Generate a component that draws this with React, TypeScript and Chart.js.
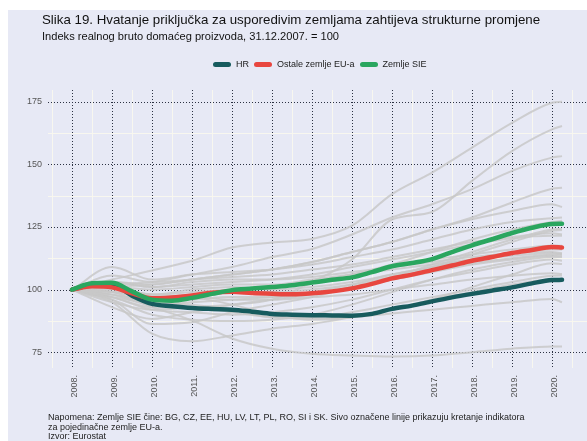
import React, { useEffect, useRef } from "react";
import { Chart, registerables } from "chart.js";

Chart.register(...registerables);

// ---------- DATA ----------
const halfYears = [
  2008, 2008.5, 2009, 2009.5, 2010, 2010.5, 2011, 2011.5, 2012, 2012.5, 2013, 2013.5,
  2014, 2014.5, 2015, 2015.5, 2016, 2016.5, 2017, 2017.5, 2018, 2018.5, 2019, 2019.5,
  2020, 2020.25,
];
const years = [2008, 2009, 2010, 2011, 2012, 2013, 2014, 2015, 2016, 2017, 2018, 2019, 2020, 2020.25];

const hrValues = [
  100, 101.8, 102, 97.6, 94.3, 93.4, 92.7, 92.3, 92.0, 91.2, 90.3, 90.0,
  89.8, 89.7, 89.6, 90.3, 92.3, 93.6, 95.3, 96.9, 98.3, 99.6, 100.9, 102.5,
  103.8, 103.9,
];
const euValues = [
  100, 101.3, 100.9, 98.5, 96.5, 96.9, 97.7, 98.7, 99.1, 98.6, 98.3, 98.1,
  98.5, 99.3, 100.5, 102.3, 104.5, 106.0, 107.8, 109.6, 111.5, 113.0, 114.6, 115.8,
  117.0, 116.8,
];
const sieValues = [
  100, 102.5, 102.7, 99.3, 96.0, 95.6, 96.7, 98.3, 99.8, 100.4, 101.0, 101.7,
  102.8, 103.9, 104.9, 107.0, 109.3, 110.6, 112.2, 115.0, 117.7, 120.1, 122.6, 124.7,
  126.2, 126.3,
];

// individual EU countries (grey lines), values at `years`
const grayLines = [
  [100, 104, 107.6, 111.5, 116.8, 118.8, 120.2, 125.5, 138.1, 146.7, 156.7, 166.6, 174.6, 175],
  [100, 95, 92, 93, 94, 96, 103, 112, 128, 131, 143.4, 155.3, 164, 165.3],
  [100, 102, 103, 106, 109, 113, 116.2, 122, 128.8, 134.1, 140.1, 147.4, 152.7, 153.3],
  [100, 101, 102, 104, 106, 108, 111, 115, 119, 124, 128.8, 134.8, 140.3, 140.7],
  [100, 103, 102, 104, 106, 108, 111, 115, 119, 124, 128.1, 131.4, 134.1, 133],
  [100, 109, 104, 106, 107, 108, 110, 113, 116, 120, 124, 127, 128.5, 128.8],
  [100, 98, 96, 98, 100, 101, 103, 106, 110, 115, 120, 124, 127, 127.5],
  [100, 96, 86.3, 87, 91, 94, 97, 101, 105, 110, 115, 120, 124, 124.2],
  [100, 93, 88.3, 91, 94, 96, 98, 101, 104, 109, 114, 119, 123.5, 123.8],
  [100, 103, 101, 102, 103, 104, 106, 109, 112, 115, 118, 120.5, 121.5, 121.5],
  [100, 99, 98, 99, 100, 101, 103, 106, 109, 112, 114, 116, 117.5, 117.5],
  [100, 101, 100, 101, 102, 102, 104, 106, 108, 110, 112, 113.5, 114.5, 114.2],
  [100, 99, 97, 98, 99, 99, 100, 102, 105, 108, 110.5, 112.5, 114, 114.2],
  [100, 97, 95, 96, 97, 97, 98, 101, 104, 107, 110, 112, 113.5, 113.5],
  [100, 95, 82.4, 79.4, 81.7, 84.4, 86.3, 89, 92, 96, 101, 106, 110.5, 110.2],
  [100, 99, 97, 97, 96, 96, 97, 98, 100, 102, 104, 105.5, 106.5, 106.2],
  [100, 98, 95, 94, 92, 89, 89, 91, 94, 97, 100, 103, 105.5, 105.6],
  [100, 97, 93, 93, 91, 89, 88.5, 89, 90.5, 92, 93.5, 95, 96.3, 94.9],
  [100, 99, 93, 87.7, 80.5, 76.4, 74.4, 73.7, 73.3, 73.7, 75, 76.4, 77.3, 77.3],
  [100, 100, 98, 97, 94, 90, 88, 89, 92, 96, 99, 102, 104, 103.5],
  [100, 101, 98, 100, 101, 100, 101, 103, 106, 109, 112, 115, 117.5, 117],
  [100, 103, 101, 103, 104, 104, 105, 107, 109, 111, 113, 114.5, 115, 114.5],
  [100, 105.6, 103, 104, 105, 106, 108, 110, 113, 116, 119, 121, 122.5, 122],
  [100, 96, 90, 88, 87.5, 88, 90, 94, 99, 104, 108, 111, 113, 113],
  [100, 97, 92, 91, 90, 91, 93, 96, 100, 104, 107, 110, 112, 111.5],
  [100, 98, 94, 95, 96, 97, 99, 102, 106, 109, 112, 114.5, 116, 116],
];

const xTickYears = [2008, 2009, 2010, 2011, 2012, 2013, 2014, 2015, 2016, 2017, 2018, 2019, 2020];
const yTickValues = [75, 100, 125, 150, 175];

const seriesNames = ["HR", "Ostale zemlje EU-a", "Zemlje SIE"];
const seriesColors = ["#175B5E", "#E8463F", "#2AA65F"];

const titleText = "Slika 19. Hvatanje priključka za usporedivim zemljama zahtijeva strukturne promjene";
const subtitleText = "Indeks realnog bruto domaćeg proizvoda, 31.12.2007. = 100";
const noteText1 =
  "Napomena: Zemlje SIE čine: BG, CZ, EE, HU, LV, LT, PL, RO, SI i SK. Sivo označene linije prikazuju kretanje indikatora";
const noteText2 = "za pojedinačne zemlje EU-a.";
const sourceText = "Izvor: Eurostat";

const FONT = "'Liberation Sans', Arial, Helvetica, sans-serif";
const BG = "#E7E9F5";

const gridPlugin = {
  id: "customGrid",
  beforeDatasetsDraw(chart: any) {
    const { ctx, chartArea, scales } = chart;
    const { left, right, top, bottom } = chartArea;
    const x = scales.x;
    const y = scales.y;
    ctx.save();
    // faint minor grid
    ctx.strokeStyle = "rgba(250,248,238,0.9)";
    ctx.lineWidth = 1;
    ctx.setLineDash([]);
    for (let v = 62.5; v <= 190; v += 25) {
      const py = Math.round(y.getPixelForValue(v)) + 0.5;
      if (py < top || py > bottom) continue;
      ctx.beginPath();
      ctx.moveTo(left, py);
      ctx.lineTo(right, py);
      ctx.stroke();
    }
    for (let v = 2007.5; v <= 2021; v += 1) {
      const px = Math.round(x.getPixelForValue(v)) + 0.5;
      if (px < left || px > right) continue;
      ctx.beginPath();
      ctx.moveTo(px, top);
      ctx.lineTo(px, bottom);
      ctx.stroke();
    }
    // dotted major grid
    ctx.strokeStyle = "#2C3243";
    ctx.lineWidth = 1;
    ctx.setLineDash([1, 2]);
    for (const v of yTickValues) {
      const py = Math.round(y.getPixelForValue(v)) + 0.5;
      ctx.beginPath();
      ctx.moveTo(left, py);
      ctx.lineTo(right, py);
      ctx.stroke();
    }
    for (const v of xTickYears) {
      const px = Math.round(x.getPixelForValue(v)) + 0.5;
      ctx.beginPath();
      ctx.moveTo(px, top);
      ctx.lineTo(px, bottom);
      ctx.stroke();
    }
    ctx.restore();
  },
};

function toPoints(xs: number[], ys: number[]) {
  return xs.map((xv, i) => ({ x: xv, y: ys[i] }));
}

export default function App() {
  const canvasRef = useRef<HTMLCanvasElement | null>(null);

  useEffect(() => {
    const canvas = canvasRef.current;
    if (!canvas) return;

    const grayDatasets = grayLines.map((vals, i) => ({
      label: "g" + i,
      data: toPoints(years, vals),
      borderColor: "rgba(200,200,200,0.85)",
      borderWidth: 2,
      pointRadius: 0,
      cubicInterpolationMode: "monotone" as const,
      order: 10,
    }));

    const mainValues = [hrValues, euValues, sieValues];
    const mainOrders = [3, 2, 1];
    const mainDatasets = mainValues.map((vals, i) => ({
      label: seriesNames[i],
      data: toPoints(halfYears, vals),
      borderColor: seriesColors[i],
      borderWidth: 4.5,
      pointRadius: 0,
      borderCapStyle: "round" as const,
      borderJoinStyle: "round" as const,
      cubicInterpolationMode: "monotone" as const,
      order: mainOrders[i],
    }));

    const chart = new Chart(canvas, {
      type: "line",
      data: { datasets: [...grayDatasets, ...mainDatasets] as any },
      options: {
        animation: false,
        responsive: false,
        devicePixelRatio: 1,
        layout: { padding: { top: 90, left: 0, right: 0, bottom: 0 } },
        plugins: {
          legend: { display: false },
          tooltip: { enabled: false },
          title: { display: false },
        },
        scales: {
          x: {
            type: "linear",
            min: 2007.4,
            max: 2020.875,
            grid: { display: false, drawTicks: false },
            border: { display: false },
            afterBuildTicks: (axis: any) => {
              axis.ticks = xTickYears.map((v) => ({ value: v }));
            },
            afterFit: (scale: any) => {
              scale.height = 73;
            },
            ticks: {
              autoSkip: false,
              maxRotation: 90,
              minRotation: 90,
              padding: 7,
              labelOffset: 3,
              color: "#555555",
              font: { family: FONT, size: 9 },
              callback: (v: any) => `${v}.`,
            },
          },
          y: {
            type: "linear",
            min: 68.7,
            max: 179.7,
            grid: { display: false, drawTicks: false },
            border: { display: false },
            afterBuildTicks: (axis: any) => {
              axis.ticks = yTickValues.map((v) => ({ value: v }));
            },
            afterFit: (scale: any) => {
              scale.width = 48;
            },
            ticks: {
              padding: 6,
              color: "#555555",
              font: { family: FONT, size: 9 },
              callback: (v: any) => `${v}`,
            },
          },
        },
      },
      plugins: [gridPlugin],
    });

    return () => chart.destroy();
  }, []);

  return (
    <div
      style={{
        position: "fixed",
        left: 0,
        top: 0,
        width: 587,
        height: 441,
        background: "#ffffff",
        overflow: "hidden",
        fontFamily: FONT,
      }}
    >
      <div style={{ position: "absolute", left: 8, top: 10, right: 0, bottom: 0, background: BG }} />
      <canvas
        ref={canvasRef}
        width={587}
        height={441}
        style={{ position: "absolute", left: 0, top: 0, width: 587, height: 441 }}
      />
      <div
        style={{
          position: "absolute",
          left: 42,
          top: 12,
          fontSize: 13.3,
          color: "#111111",
          whiteSpace: "nowrap",
          lineHeight: "16px",
        }}
      >
        {titleText}
      </div>
      <div
        style={{
          position: "absolute",
          left: 42,
          top: 30,
          fontSize: 11.1,
          color: "#111111",
          whiteSpace: "nowrap",
          lineHeight: "13px",
        }}
      >
        {subtitleText}
      </div>
      <div
        style={{
          position: "absolute",
          left: 213,
          top: 58,
          height: 12,
          display: "flex",
          alignItems: "center",
          fontSize: 9,
          color: "#222222",
          whiteSpace: "nowrap",
        }}
      >
        {seriesNames.map((name, i) => (
          <div key={name} style={{ display: "flex", alignItems: "center", marginRight: 5 }}>
            <span
              style={{
                display: "inline-block",
                width: 18,
                height: 5,
                borderRadius: 3,
                background: seriesColors[i],
                marginRight: 5,
              }}
            />
            <span>{name}</span>
          </div>
        ))}
      </div>
      <div
        style={{
          position: "absolute",
          left: 48,
          top: 413,
          fontSize: 9,
          lineHeight: "9.7px",
          color: "#222222",
          whiteSpace: "nowrap",
        }}
      >
        <div>{noteText1}</div>
        <div>{noteText2}</div>
        <div>{sourceText}</div>
      </div>
    </div>
  );
}
